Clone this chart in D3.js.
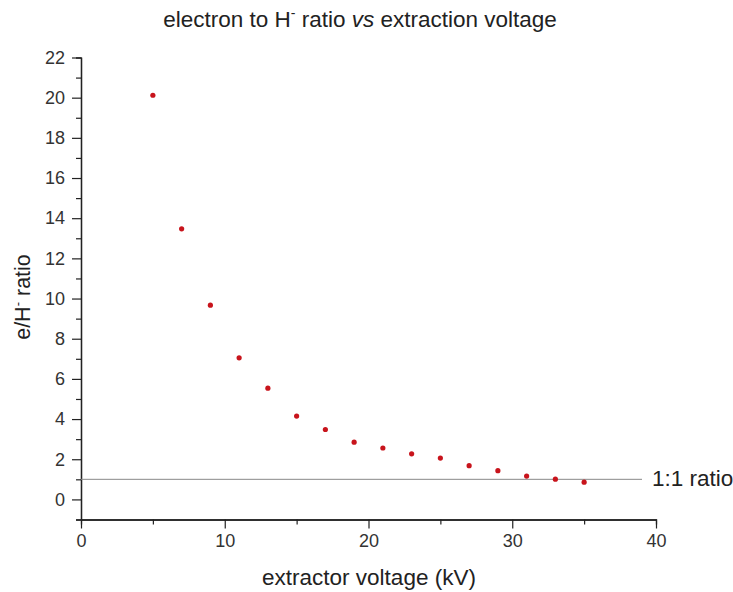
<!DOCTYPE html>
<html><head><meta charset="utf-8">
<script src="https://cdn.jsdelivr.net/npm/d3@7"></script>
<style>body{margin:0;background:#fff}svg{display:block}text{font-family:"Liberation Sans",Arial,sans-serif}</style>
</head><body>
<svg id="c" width="733" height="592"></svg>
<script>
const voltages = [5,7,9,11,13,15,17,19,21,23,25,27,29,31,33,35];
const ratios = [20.12,13.47,9.67,7.05,5.54,4.15,3.48,2.85,2.56,2.27,2.06,1.68,1.43,1.16,1.01,0.86];
const xMajorTicks = [0,10,20,30,40];
const xMinorTicks = [5,15,25,35];
const yMajorTicks = [0,2,4,6,8,10,12,14,16,18,20,22];
const yMinorTicks = [-1,1,3,5,7,9,11,13,15,17,19,21];
const refRatio = 1;

const svg = d3.select("#c");
const x = d3.scaleLinear().domain([0,40]).range([81,656]);
const y = d3.scaleLinear().domain([-1,22]).range([519.5,57.5]);

// x axis
const xAxis = svg.append("g").attr("transform","translate(0,519.5)");
xAxis.call(d3.axisBottom(x).tickValues(xMajorTicks).tickSize(9).tickPadding(6).tickSizeOuter(0).tickFormat(d3.format("d")));
xAxis.append("g").call(d3.axisBottom(x).tickValues(xMinorTicks).tickSize(5).tickFormat(""));
xAxis.selectAll(".domain").attr("stroke","#222").attr("stroke-width",1.3);
xAxis.selectAll("line").attr("stroke","#222").attr("stroke-width",1.2);
xAxis.selectAll("text").attr("font-size",18).attr("fill","#333");

// y axis
const yAxis = svg.append("g").attr("transform","translate(81,0)");
yAxis.call(d3.axisLeft(y).tickValues(yMajorTicks).tickSize(9).tickPadding(7).tickSizeOuter(0).tickFormat(d3.format("d")));
yAxis.append("g").call(d3.axisLeft(y).tickValues(yMinorTicks).tickSize(5).tickFormat(""));
yAxis.selectAll(".domain").attr("stroke","#222").attr("stroke-width",1.3);
yAxis.selectAll("line").attr("stroke","#222").attr("stroke-width",1.2);
yAxis.selectAll("text").attr("font-size",18).attr("fill","#333");

// 1:1 line
svg.append("line").attr("x1",x(0)).attr("x2",642).attr("y1",y(refRatio)).attr("y2",y(refRatio))
  .attr("stroke","#888").attr("stroke-width",1);
svg.append("text").attr("x",652).attr("y",y(refRatio)+7).attr("font-size",22.5).attr("fill","#222").text("1:1 ratio");

// points
svg.append("g").selectAll("circle").data(voltages).join("circle")
  .attr("cx",(d)=>x(d)).attr("cy",(d,i)=>y(ratios[i])).attr("r",2.6)
  .attr("fill","#c8141c");

// title
const t = svg.append("text").attr("x",360).attr("y",27).attr("text-anchor","middle").attr("font-size",22.5).attr("fill","#222");
t.append("tspan").text("electron to H");
t.append("tspan").attr("font-size",14).attr("dy",-9).text("-");
t.append("tspan").attr("dy",9).text(" ratio ");
t.append("tspan").attr("font-style","italic").text("vs");
t.append("tspan").text(" extraction voltage");

// x label
svg.append("text").attr("x",369).attr("y",585).attr("text-anchor","middle").attr("font-size",22.5).attr("fill","#222").text("extractor voltage (kV)");

// y label
const yl = svg.append("text").attr("transform","translate(30,297) rotate(-90)").attr("text-anchor","middle").attr("font-size",21.5).attr("fill","#222");
yl.append("tspan").text("e/H");
yl.append("tspan").attr("font-size",13).attr("dy",-8).text("-");
yl.append("tspan").attr("dy",8).text(" ratio");
</script>
</body></html>
